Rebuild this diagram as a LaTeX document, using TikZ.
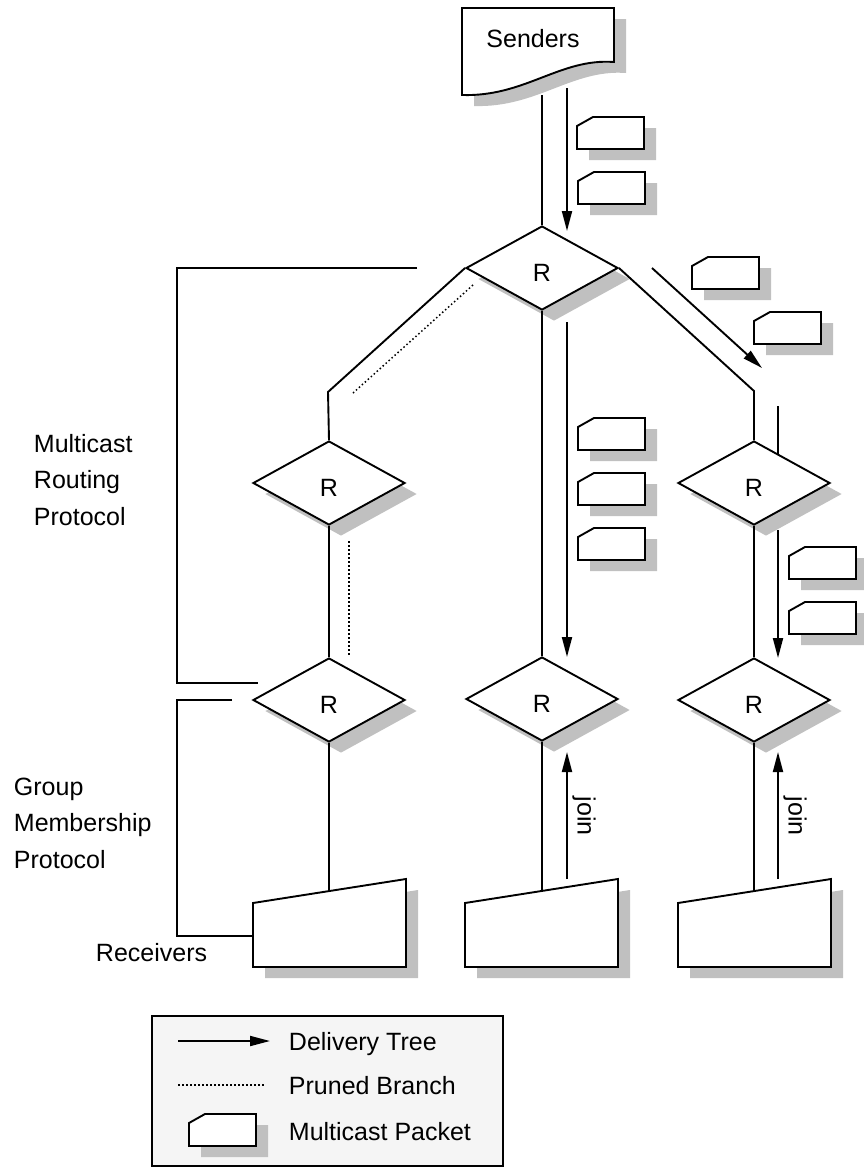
\documentclass[tikz,border=0pt]{standalone}
\usepackage{fontspec}
\setmainfont{Liberation Sans}
\usetikzlibrary{arrows.meta,shapes.geometric,shadows}
\definecolor{shadowgray}{RGB}{192,192,192}
\definecolor{legendbg}{RGB}{245,245,245}

\begin{document}
\begin{tikzpicture}[x=1pt,y=-1pt,line width=1.9pt,line join=miter,
  font=\fontsize{25pt}{36.5pt}\selectfont,
  shadowed/.style={drop shadow={shadow xshift=12pt,shadow yshift=-11pt,fill=shadowgray,opacity=1}},
  router/.style={diamond,draw,fill=white,shadowed,minimum width=152pt,minimum height=84pt,
    inner sep=0pt,text height=26pt,text depth=0pt},
  delivery/.style={-{Triangle[length=20pt,width=10pt]}},
  pruned/.style={line width=1.5pt,dash pattern=on 1.5pt off 2.5pt},
  pkt/.style={draw,fill=white,shadowed},
  txt/.style={inner sep=0pt,align=left}]
  \useasboundingbox (0,0) rectangle (863,1168);

  % routers
  \node[router] (rtop) at (542,268) {R};
  \node[router] (rleft) at (329,483) {R};
  \node[router] (rright) at (754,483) {R};
  \node[router] (rbl) at (329,700) {R};
  \node[router] (rbm) at (542,699) {R};
  \node[router] (rbr) at (754,700) {R};

  % receivers
  \foreach \rx in {253,465,678}
    \draw[fill=white,shadowed] (\rx,903) -- ++(153,-24) -- ++(0,88) -- ++(-153,0) -- cycle;
  \coordinate (rcvl) at (329,891);
  \coordinate (rcvm) at (542,891);
  \coordinate (rcvr) at (754,891);

  % senders (wavy document)
  \coordinate (sbot) at (542,95);
  \draw (sbot) -- (rtop.north);
  \draw[delivery] (567,88) -- (567,231);
  \draw[fill=white,shadowed] (462,8) -- (614,8) -- (614,62)
    .. controls (560,58) and (525,97) .. (462,95) -- cycle;
  \node (senders) at (533,39) {Senders};

  % tree lines
  \draw (rtop.west) -- (328,392) -- (rleft.north);
  \draw[pruned] (473,285) -- (353,393);
  \draw (rleft.south) -- (rbl.north);
  \draw[pruned] (349,541) -- (349,657);
  \draw (rtop.south) -- (rbm.north);
  \draw[delivery] (567,322) -- (567,657);
  \draw (rtop.east) -- (754,391) -- (rright.north);
  \draw[delivery] (652,268) -- (762,368);
  \draw (778,406) -- (778,454);
  \draw (rright.south) -- (rbr.north);
  \draw[delivery] (778,530) -- (778,658);

  % receivers up to routers
  \draw (rbl.south) -- (rcvl);
  \draw (rbm.south) -- (rcvm);
  \draw (rbr.south) -- (rcvr);
  \draw[delivery] (567,879) -- (567,752);
  \draw[delivery] (778,879) -- (778,752);
  \node[rotate=-90] (joinm) at (584,816) {join};
  \node[rotate=-90] (joinr) at (795,816) {join};

  % protocol brackets
  \draw (417,268) -- (177,268) -- (177,683) -- (258,683);
  \draw (232,700) -- (177,700) -- (177,936) -- (253,936);
  \node[txt,anchor=base west] (mrp) at (33,525) {Multicast\\Routing\\Protocol};
  \node[txt,anchor=base west] (gmp) at (13,868) {Group\\Membership\\Protocol};
  \node[txt,anchor=base west] (rcvtxt) at (95,961) {Receivers};

  % legend
  \draw[line width=1.4pt,fill=legendbg] (152,1016) rectangle (503,1166);
  \draw[delivery] (178,1041) -- (270,1041);
  \draw[pruned,line width=1.2pt] (178,1085) -- (264,1085);
  \node[txt,anchor=base west] (lgtree) at (288,1050) {Delivery Tree};
  \node[txt,anchor=base west] (lgpruned) at (288,1094) {Pruned Branch};
  \node[txt,anchor=base west] (lgpkt) at (288,1140) {Multicast Packet};

  % packets
  \foreach \px/\py in {577/117,578/172,578/418,578/473,578/528,692/257,754/312,789/547,789/602,189/1114}
    \draw[pkt] (\px,\py) ++(0,9) -- ++(16,-9) -- ++(51,0) -- ++(0,32) -- ++(-67,0) -- cycle;
\end{tikzpicture}
\end{document}
